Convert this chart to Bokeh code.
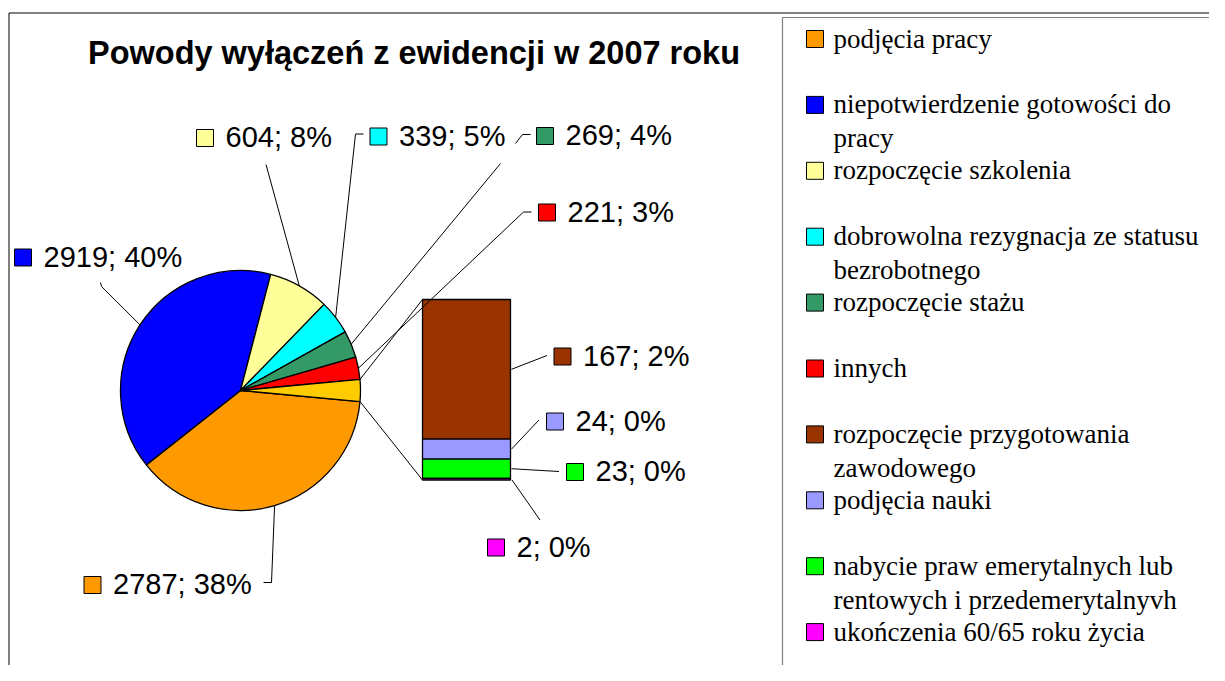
import math
from bokeh.plotting import figure
from bokeh.models import Range1d
from bokeh.core.properties import value
from bokeh.embed import file_html
from bokeh.resources import INLINE

# ---------------- data ----------------
title = "Powody wyłączeń z ewidencji  w 2007 roku"

pie_names = ["podjęcia pracy", "niepotwierdzenie gotowości do pracy", "rozpoczęcie szkolenia",
             "dobrowolna rezygnacja ze statusu bezrobotnego", "rozpoczęcie stażu", "innych"]
pie_values = [2787, 2919, 604, 339, 269, 221]
pie_colors = ["#FF9900", "#0000FF", "#FFFF99", "#00FFFF", "#339966", "#FF0000"]

bar_names = ["rozpoczęcie przygotowania zawodowego", "podjęcia nauki",
             "nabycie praw emerytalnych lub rentowych i przedemerytalnyvh",
             "ukończenia 60/65 roku życia"]
bar_values = [167, 24, 23, 2]
bar_colors = ["#993300", "#9999FF", "#00FF00", "#FF00FF"]
other_color = "#FFCC00"

legend_lines = [
    ["podjęcia pracy"],
    ["niepotwierdzenie gotowości do", "pracy"],
    ["rozpoczęcie szkolenia"],
    ["dobrowolna rezygnacja ze statusu", "bezrobotnego"],
    ["rozpoczęcie stażu"],
    ["innych"],
    ["rozpoczęcie przygotowania", "zawodowego"],
    ["podjęcia nauki"],
    ["nabycie praw emerytalnych lub", "rentowych i przedemerytalnyvh"],
    ["ukończenia 60/65 roku życia"],
]
legend_colors = pie_colors + bar_colors

# ---------------- figure (1 data unit = 1 px) ----------------
W, H = 1209, 665
p = figure(width=W, height=H, x_range=Range1d(0, W), y_range=Range1d(0, H),
           x_axis_type=None, y_axis_type=None, toolbar_location=None, output_backend="svg",
           min_border=0, outline_line_color=None)
p.grid.visible = False
p.background_fill_color = "white"


def Y(py):
    return H - py


LAB_FONT = value("Liberation Sans")
LEG_FONT = value("Liberation Serif")
BASE_K = 0.37  # baseline correction factor for rendered text


def txt(x, base, s, font, size, align="left", bold=False):
    p.text(x=[x], y=[Y(base - BASE_K * size)], text=[s], text_font=font,
           text_font_style="bold" if bold else "normal", text_font_size=f"{size}px",
           text_align=align, text_baseline="alphabetic", text_color="black")


# outer chart border and legend box
p.quad(left=8.5, right=1400, top=Y(12.5), bottom=Y(800), fill_color=None, line_color="black", line_width=1)
p.quad(left=782, right=1400, top=Y(17), bottom=Y(800), fill_color=None, line_color="#808080", line_width=1.2)

# title
txt(418, 65, title, LAB_FONT, 32.5, align="center", bold=True)

# ---------------- pie ----------------
other = sum(bar_values)
total = sum(pie_values) + other
cx, cy, R = 240, Y(390), 120
half = math.pi * other / total
ang = -half
starts, ends, mids = [], [], []
for v in pie_values:
    a = 2 * math.pi * v / total
    ends.append(ang)
    starts.append(ang - a)
    mids.append(ang - a / 2)
    ang -= a
p.wedge(x=[cx] * len(pie_values), y=[cy] * len(pie_values), radius=R, start_angle=starts, end_angle=ends,
        direction="anticlock", fill_color=pie_colors, line_color="black", line_width=1.3)
p.wedge(x=[cx], y=[cy], radius=R, start_angle=[-half], end_angle=[half], direction="anticlock",
        fill_color=other_color, line_color="black", line_width=1.3)

# ---------------- bar of "other" ----------------
bx0, bx1 = 422, 510
btop, bbot = 299, 479.5
scale = (bbot - btop) / other
tops, bots, bmid = [], [], []
cur = btop
for v in bar_values:
    tops.append(cur)
    bots.append(cur + scale * v)
    bmid.append(cur + scale * v / 2)
    cur += scale * v
p.quad(left=bx0, right=bx1, top=[Y(t) for t in tops], bottom=[Y(b) for b in bots],
       fill_color=bar_colors, line_color="black", line_width=1.3)

# connector lines pie -> bar
p.line(x=[cx + R * math.cos(half), bx0], y=[cy + R * math.sin(half), Y(btop)], line_color="black", line_width=1)
p.line(x=[cx + R * math.cos(-half), bx0], y=[cy + R * math.sin(-half), Y(bbot)], line_color="black", line_width=1)


def pct(v):
    return f"{v}; {round(100 * v / total)}%"


LAB_SIZE = 29


def label(sq_x, sq_top, s, color):
    p.quad(left=[sq_x], right=[sq_x + 17], top=[Y(sq_top)], bottom=[Y(sq_top + 17)],
           fill_color=color, line_color="black", line_width=1)
    txt(sq_x + 29, sq_top + 18.5, s, LAB_FONT, LAB_SIZE)


def leader(pts):
    p.line(x=[q[0] for q in pts], y=[q[1] for q in pts], line_color="black", line_width=1)


def rim(i):
    return (cx + R * math.cos(mids[i]), cy + R * math.sin(mids[i]))


# pie data labels
label(14, 248.5, pct(pie_values[1]), pie_colors[1])
leader([(100, Y(282)), (101, Y(286)), rim(1)])

label(83.5, 576, pct(pie_values[0]), pie_colors[0])
leader([(263, Y(582)), (271, Y(582)), rim(0)])

label(196, 129, pct(pie_values[2]), pie_colors[2])
leader([(265.5, Y(164)), rim(2)])

label(369.5, 127.5, pct(pie_values[3]), pie_colors[3])
leader([(363, Y(133.5)), (355, Y(133.5)), rim(3)])

label(536, 127, pct(pie_values[4]), pie_colors[4])
leader([(515, Y(143)), (522, Y(134)), (530, Y(134))])
leader([(500, Y(163)), rim(4)])

label(538, 203.5, pct(pie_values[5]), pie_colors[5])
leader([(531, Y(211.5)), (523, Y(211.5)), rim(5)])

# bar data labels
label(553.5, 347.5, pct(bar_values[0]), bar_colors[0])
leader([(546.5, Y(355)), (bx1 + 1, Y(bmid[0]))])

label(546, 412.5, pct(bar_values[1]), bar_colors[1])
leader([(538.5, Y(419.5)), (bx1 + 1, Y(bmid[1]))])

label(566, 463, pct(bar_values[2]), bar_colors[2])
leader([(558.5, Y(471)), (bx1 + 1, Y(bmid[2]))])

label(487, 538.5, pct(bar_values[3]), bar_colors[3])
leader([(539.5, Y(519.5)), (bx1 + 1.5, Y(bbot))])

# ---------------- legend ----------------
leg_x = 806
leg_top0 = 30
leg_step = 65.9
for i, (lines, col) in enumerate(zip(legend_lines, legend_colors)):
    top = leg_top0 + i * leg_step
    p.quad(left=[leg_x], right=[leg_x + 17], top=[Y(top)], bottom=[Y(top + 17)],
           fill_color=col, line_color="black", line_width=1)
    for j, ln in enumerate(lines):
        txt(833, top + 18 + 34 * j, ln, LEG_FONT, 27)

open("out.html", "w").write(file_html(p, INLINE))
